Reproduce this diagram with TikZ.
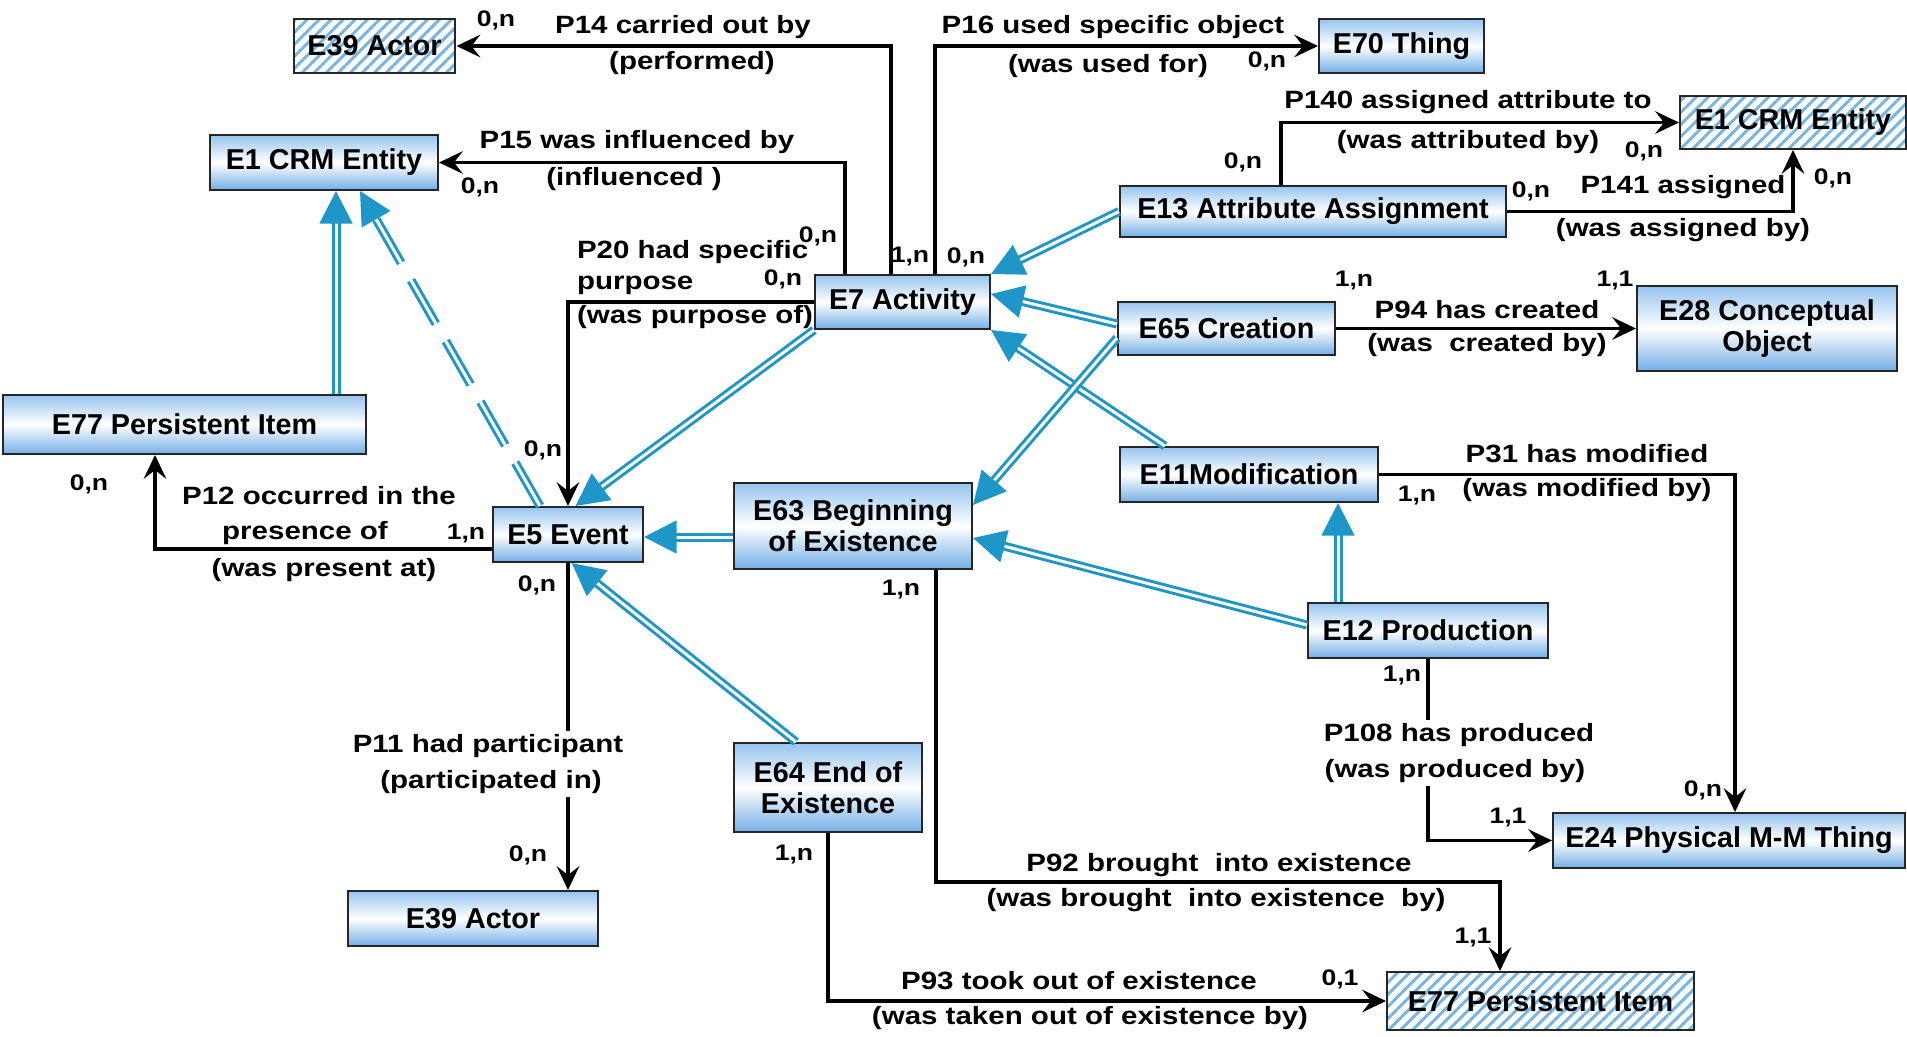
\documentclass[tikz,border=0pt]{standalone}
\usepackage{fontspec}
\setmainfont{Liberation Sans}
\newfontfamily\lblfont[FakeStretch=1.18]{Liberation Sans}
\usetikzlibrary{arrows.meta,patterns.meta}
\definecolor{boxtop}{RGB}{150,196,238}
\definecolor{boxbot}{RGB}{115,174,230}
\definecolor{isablue}{RGB}{30,150,200}
\definecolor{hatchblue}{RGB}{120,182,225}
\tikzset{
  wh/.style 2 args={minimum width=#1pt, minimum height=#2pt},
  ent/.style={draw=black!85, line width=0.8pt, top color=boxtop, bottom color=boxbot, middle color=white,
    font=\bfseries\fontsize{11.5}{12.5}\selectfont, align=center, inner sep=0pt},
  hent/.style={draw=black!85, line width=0.8pt, pattern={Lines[angle=45,distance=3.4pt,line width=1.2pt]},
    pattern color=hatchblue, font=\bfseries\fontsize{11.5}{12.5}\selectfont, inner sep=0pt},
  rel/.style={line width=1.4pt, -{Stealth[length=9.5pt,width=9pt,inset=3.5pt]}},
  isa/.style={draw=isablue, double=white, line width=1.2pt, double distance=1.2pt,
    -{Triangle[length=13pt,width=13pt]}},
  lbl/.style={font=\lblfont\bfseries\fontsize{10}{12}\selectfont, inner sep=1pt},
  card/.style={font=\lblfont\bfseries\fontsize{9}{10}\selectfont, inner sep=0pt}
}
\begin{document}
\begin{tikzpicture}[x=0.4pt,y=-0.4pt]
\useasboundingbox (0,0) rectangle (1907,1036);
\node[hent, wh={64.4}{21.6}] (actA) at (374.5,46) {E39 Actor};
\node[ent, wh={91.2}{22}] (entL) at (324,162.5) {E1 CRM Entity};
\node[ent, wh={145.2}{23.6}] (piL) at (184.5,424.5) {E77 Persistent Item};
\node[ent, wh={70}{21.6}] (act) at (902.5,302) {E7 Activity};
\node[ent, wh={60}{22}] (evt) at (568,534.5) {E5 Event};
\node[ent, wh={95.2}{34.4}] (beg) at (853,526) {E63 Beginning\\of Existence};
\node[ent, wh={75.2}{35.6}] (endx) at (828,787.5) {E64 End of\\Existence};
\node[ent, wh={100}{22}] (actB) at (473,918.5) {E39 Actor};
\node[ent, wh={66}{21.6}] (thing) at (1401.5,46) {E70 Thing};
\node[ent, wh={154.4}{20.4}] (attr) at (1313,211.5) {E13 Attribute Assignment};
\node[hent, wh={90.4}{21.2}] (entR) at (1793,122.5) {E1 CRM Entity};
\node[ent, wh={86.8}{21.2}] (crea) at (1226.5,328.5) {E65 Creation};
\node[ent, wh={104}{34}] (conc) at (1767,328.5) {E28 Conceptual\\Object};
\node[ent, wh={103.2}{22}] (modi) at (1249,474.5) {E11Modification};
\node[ent, wh={96}{22}] (prod) at (1428,630.5) {E12 Production};
\node[ent, wh={140.8}{22}] (phys) at (1729,840.5) {E24 Physical M-M Thing};
\node[hent, wh={122.8}{23.2}] (piR) at (1540.5,1001) {E77 Persistent Item};

\foreach \nm/\x/\y/\t in {l14a/683/27/P14 carried out by, l14b/692/63/(performed),
  l15a/637/142/P15 was influenced by, l15b/634/179/(influenced ),
  l16a/1113/27/P16 used specific object, l16b/1108/66/(was used for),
  l140a/1468/102/P140 assigned attribute to, l140b/1468/142/(was attributed by),
  l141a/1683/187/P141 assigned, l141b/1683/230/(was assigned by),
  l94a/1487/310/P94 has created, l94b/1487/345/(was~ created by),
  l31a/1587/454/P31 has modified, l31b/1587/490/(was modified by),
  l12a/319/496/P12 occurred in the, l12b/305/533/presence of, l12c/324/570/(was present at),
  l11a/488/746/P11 had participant, l11b/491/782/(participated in),
  l108a/1459/735/P108 has produced, l108b/1455/771/(was produced by),
  l92a/1219/865/P92 brought~ into existence, l92b/1216/900/(was brought~ into existence~ by),
  l93a/1079/981/P93 took out of existence, l93b/1090/1018/(was taken out of existence by)}
  \node[lbl] (\nm) at (\x,\y) {\t};
\node[lbl, anchor=west] (l20a) at (574,252) {P20 had specific};
\node[lbl, anchor=west] (l20b) at (574,285) {purpose};
\node[lbl, anchor=west] (l20c) at (574,317) {(was purpose of)};

\foreach \nm/\x/\y/\t in {c1/496/20/{0,n}, c2/1267/61/{0,n}, c3/1243/162/{0,n}, c4/1644/151/{0,n},
  c5/1531/191/{0,n}, c6/1833/178/{0,n}, c7/480/187/{0,n}, c8/818/236/{0,n}, c9/783/279/{0,n},
  c10/910/256/{1,n}, c11/966/257/{0,n}, c12/1354/280/{1,n}, c13/1615/280/{1,1}, c14/1417/495/{1,n},
  c15/543/450/{0,n}, c16/89/484/{0,n}, c17/466/533/{1,n}, c18/537/585/{0,n}, c19/901/589/{1,n},
  c20/1402/675/{1,n}, c21/1703/790/{0,n}, c22/1508/817/{1,1}, c23/528/855/{0,n}, c24/794/854/{1,n},
  c25/1473/937/{1,1}, c26/1340/979/{0,1}}
  \node[card] (\nm) at (\x,\y) {\t};

\draw[rel] (act.north -| 891,0) |- (actA);
\draw[rel] (act.north -| 845,0) |- (entL);
\draw[rel] (act.north -| 935,0) |- (thing);
\draw[rel] (act) -| (evt);
\draw[rel] (evt.west |- 0,549) -| (piL.south -| 155,0);
\draw[line width=1.4pt] (evt) -- (evt |- l11a.north);
\draw[rel] (evt |- l11b.south) -- (actB.north -| evt);
\draw[rel] (attr.north -| 1281,0) |- (entR);
\draw[rel] (attr) -| (entR);
\draw[rel] (crea) -- (conc);
\draw[rel] (modi) -| (phys.north -| 1735,0);
\draw[line width=1.4pt] (prod) -- (prod |- l108a.north);
\draw[rel] (prod |- l108b.south) |- (phys);
\draw[rel] (beg.south -| 936,0) |- (1500,882) -- (piR.north -| 1500,0);
\draw[rel] (endx) |- (piR);

\draw[isa] (piL.north -| 336,0) -- (entL.south -| 336,0);
\draw[isa, dash pattern=on 20pt off 8pt] (evt.north -| 540,0) -- (entL.south -| 360,0);
\draw[isa] (act.south west) -- ([xshift=3pt]evt.north);
\draw[isa] (beg.west |- 0,537) -- (evt.east |- 0,537);
\draw[isa] (endx.north -| 796,0) -- ([xshift=1.5pt]evt.south);
\draw[isa] (attr.west) -- (act.north east);
\draw[isa] (crea.west |- 0,324) -- (act.east |- 0,294);
\draw[isa] (modi.north -| 1165,0) -- (act.south east);
\draw[isa] (crea.west |- 0,338) -- (beg.east |- 0,505);
\draw[isa] (prod.west |- 0,625) -- (beg.east |- 0,538);
\draw[isa] (prod.north -| 1338,0) -- (modi.south -| 1338,0);
\end{tikzpicture}
\end{document}
